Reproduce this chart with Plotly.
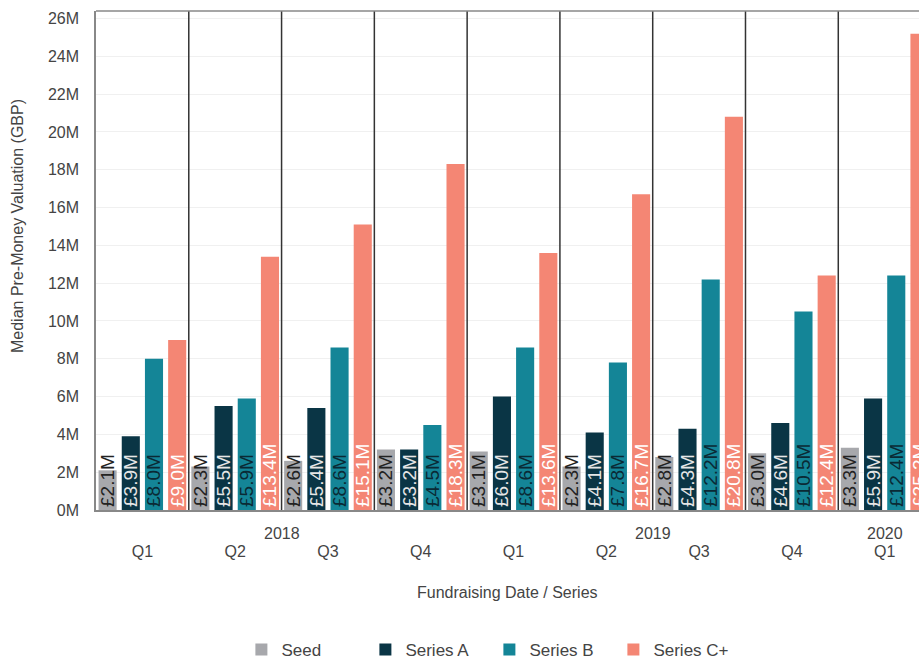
import plotly.graph_objects as go

# Fundraising quarters (Q1 2018 – Q1 2020)
quarters = ["Q1", "Q2", "Q3", "Q4", "Q1", "Q2", "Q3", "Q4", "Q1"]
years = ["2018", "2018", "2018", "2018", "2019", "2019", "2019", "2019", "2020"]
periods = [f"{y} {q}" for y, q in zip(years, quarters)]

# Median pre-money valuation, £M
seed = [2.1, 2.3, 2.6, 3.2, 3.1, 2.3, 2.8, 3.0, 3.3]
series_a = [3.9, 5.5, 5.4, 3.2, 6.0, 4.1, 4.3, 4.6, 5.9]
series_b = [8.0, 5.9, 8.6, 4.5, 8.6, 7.8, 12.2, 10.5, 12.4]
series_c = [9.0, 13.4, 15.1, 18.3, 13.6, 16.7, 20.8, 12.4, 25.2]

series = [
    ("Seed", seed, "#A7A8AC", "#222222"),
    ("Series A", series_a, "#0A3545", "#E6E6E6"),
    ("Series B", series_b, "#148597", "#0A2A35"),
    ("Series C+", series_c, "#F48674", "#FFFFFF"),
]

FONT = "Liberation Sans"
TXT = "#444444"

W, H = 919, 660
M_L, M_R, M_T, M_B = 96, 0, 11, 150
plot_w = W - M_L - M_R
plot_h = H - M_T - M_B

fig = go.Figure()
for name, vals, color, tcolor in series:
    fig.add_trace(go.Bar(
        name=name,
        x=periods,
        y=vals,
        marker=dict(color=color, line=dict(width=0)),
        text=[f"£{v:.1f}M" for v in vals],
        textposition="inside",
        insidetextanchor="start",
        textangle=-90,
        textfont=dict(family=FONT, size=19, color=tcolor),
        hoverinfo="skip",
    ))

# quarter separators
shapes = [
    dict(type="line", xref="x", yref="paper", x0=i + 0.5, x1=i + 0.5, y0=0, y1=1,
         line=dict(color="#333333", width=1.5))
    for i in range(len(periods) - 1)
]
# top border of the panel
shapes.append(dict(type="line", xref="paper", yref="paper", x0=0, x1=1, y0=1, y1=1,
                   line=dict(color="#888888", width=1.5)))

annotations = []
# year labels, centred under their quarters
year_pos = {}
for i, y in enumerate(years):
    year_pos.setdefault(y, []).append(i)
for y, idx in year_pos.items():
    annotations.append(dict(
        x=sum(idx) / len(idx), y=0, xref="x", yref="paper",
        text=y, showarrow=False, yanchor="middle", yshift=-23,
        font=dict(family=FONT, size=16, color=TXT),
    ))
annotations.append(dict(
    x=0.5, y=0, xref="paper", yref="paper", text="Fundraising Date / Series",
    showarrow=False, yanchor="middle", yshift=-82,
    font=dict(family=FONT, size=16, color=TXT),
))
annotations.append(dict(
    x=(17 - M_L) / plot_w, y=(H - M_B - 226) / plot_h, xref="paper", yref="paper",
    text="Median Pre-Money Valuation (GBP)", showarrow=False, textangle=-90,
    xanchor="center", yanchor="middle",
    font=dict(family=FONT, size=16, color=TXT),
))

fig.update_layout(
    width=W, height=H,
    margin=dict(l=M_L, r=M_R, t=M_T, b=M_B, autoexpand=False),
    paper_bgcolor="white", plot_bgcolor="white",
    barmode="group", bargap=0.0, bargroupgap=0.22,
    uniformtext=dict(mode="show", minsize=19),
    font=dict(family=FONT, size=16, color=TXT),
    shapes=shapes,
    annotations=annotations,
    showlegend=True,
    legend=dict(orientation="h", x=0.478, xanchor="center", y=-(650 - (H - M_B)) / plot_h,
                yanchor="middle", font=dict(family=FONT, size=17, color=TXT),
                entrywidth=79, traceorder="normal"),
)
fig.update_xaxes(
    type="category", automargin=False,
    tickmode="array", tickvals=periods, ticktext=quarters,
    range=[-0.5, 8.37],
    showgrid=False, showline=True, linecolor="#888888", linewidth=1.5,
    ticks="", ticklabelstandoff=26,
    tickfont=dict(family=FONT, size=16, color=TXT),
)
fig.update_yaxes(
    range=[0, 26.4], automargin=False,
    tickvals=list(range(0, 27, 2)),
    ticktext=[f"{v}M" for v in range(0, 27, 2)],
    showgrid=True, gridcolor="#F0F0F0", gridwidth=1,
    showline=True, linecolor="#888888", linewidth=1.5,
    zeroline=False, ticks="", ticklabelstandoff=12,
    tickfont=dict(family=FONT, size=16, color=TXT),
)

fig.write_html("out.html")
